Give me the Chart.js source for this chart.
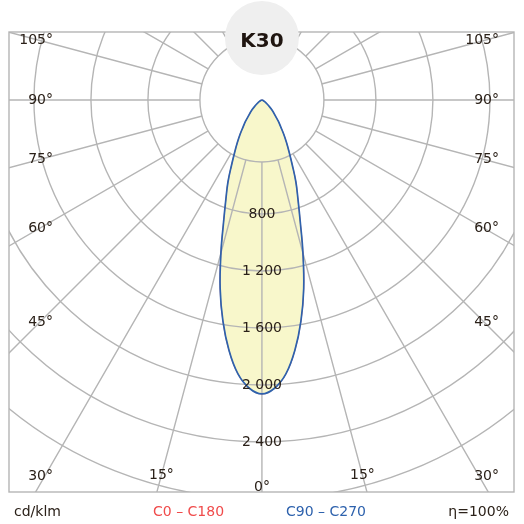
<!DOCTYPE html>
<html>
<head>
<meta charset="utf-8">
<script src="https://cdn.jsdelivr.net/npm/chart.js@4.4.1/dist/chart.umd.min.js"></script>
<style>
  html, body { margin: 0; padding: 0; background: #fff; }
  #wrap { position: relative; width: 524px; height: 524px; font-family: "DejaVu Sans", sans-serif; color: #2b2119; }
  #polar { position: absolute; left: 0; top: 0; }
  #title { position: absolute; left: 212px; top: 26px; width: 100px; text-align: center; font-weight: bold; font-size: 20px; line-height: 28px; color: #1f1510; }
  .note { position: absolute; top: 502px; font-size: 14px; line-height: 18px; white-space: nowrap; }
</style>
</head>
<body>
<div id="wrap">
  <canvas id="polar" width="524" height="524"></canvas>
  <div id="title">K30</div>
  <div class="note" style="left:14px">cd/klm</div>
  <div class="note" style="left:153px;color:#f04b4b">C0 – C180</div>
  <div class="note" style="left:286px;color:#2e62ad">C90 – C270</div>
  <div class="note" style="right:15px">η=100%</div>
</div>
<script>
// gamma angles (deg from nadir) and luminous intensity, cd/klm
var gammaAngles = [0, 2.5, 5, 7.5, 10, 12.5, 15, 17.5, 20, 22.5, 25, 27.5, 30, 32.5, 35, 37.5, 40, 45, 50, 55, 60, 70, 80, 90];
var c0c180 = [2063, 2025, 1930, 1772, 1576, 1355, 1112, 894, 739, 623, 505, 415, 345, 285, 230, 190, 150, 100, 60, 35, 18, 6, 2, 0];
var c90c270 = [2063, 2025, 1930, 1772, 1576, 1355, 1112, 894, 739, 623, 505, 415, 345, 285, 230, 190, 150, 100, 60, 35, 18, 6, 2, 0];

var ringValues = [400, 800, 1200, 1600, 2000, 2400, 2800];
var ringLabels = [800, 1200, 1600, 2000, 2400];
var spokeAngles = [0, 15, 30, 45, 60, 75, 90, 105, 120, 135, 150, 165, 180];
var degreeLabels = [0, 15, 30, 45, 60, 75, 90, 105];

var gridColor = '#b5b5b5';
var textColor = '#2b2119';
var maskRadius = 62;

// mirror one half-plane curve into a closed loop of x/y points
function toPoints(values) {
    var pts = [];
    var i, a;
    for (i = gammaAngles.length - 1; i >= 0; i--) {
        a = gammaAngles[i] * Math.PI / 180;
        pts.push({ x: -values[i] * Math.sin(a), y: -values[i] * Math.cos(a) });
    }
    for (i = 1; i < gammaAngles.length; i++) {
        a = gammaAngles[i] * Math.PI / 180;
        pts.push({ x: values[i] * Math.sin(a), y: -values[i] * Math.cos(a) });
    }
    return pts;
}

function fmt(v) {
    return String(v).replace(/\B(?=(\d{3})+(?!\d))/g, ' ');
}

var polarGrid = {
    id: 'polarGrid',
    beforeDatasetsDraw: function(chart) {
        var ctx = chart.ctx, area = chart.chartArea;
        var cx = chart.scales.x.getPixelForValue(0);
        var cy = chart.scales.y.getPixelForValue(0);
        var k = chart.scales.x.getPixelForValue(1000) - cx;

        ctx.save();
        ctx.beginPath();
        ctx.rect(area.left, area.top, area.right - area.left, area.bottom - area.top);
        ctx.arc(cx, cy, maskRadius, 0, Math.PI * 2);
        ctx.clip('evenodd');
        ctx.strokeStyle = gridColor;
        ctx.lineWidth = 1.4;
        ringValues.forEach(function(r) {
            ctx.beginPath();
            ctx.arc(cx, cy, r * k / 1000, 0, Math.PI * 2);
            ctx.stroke();
        });
        spokeAngles.forEach(function(deg) {
            var a = deg * Math.PI / 180;
            ctx.beginPath();
            ctx.moveTo(cx, cy);
            ctx.lineTo(cx + 1000 * Math.sin(a), cy + 1000 * Math.cos(a));
            ctx.moveTo(cx, cy);
            ctx.lineTo(cx - 1000 * Math.sin(a), cy + 1000 * Math.cos(a));
            ctx.stroke();
        });
        ctx.restore();

        ctx.save();
        ctx.strokeStyle = gridColor;
        ctx.lineWidth = 1.4;
        ctx.beginPath();
        ctx.arc(cx, cy, maskRadius, 0, Math.PI * 2);
        ctx.stroke();
        ctx.strokeRect(area.left, area.top, area.right - area.left, area.bottom - area.top);
        ctx.restore();
    },
    afterDatasetsDraw: function(chart) {
        var ctx = chart.ctx, area = chart.chartArea;
        var cx = chart.scales.x.getPixelForValue(0);
        var cy = chart.scales.y.getPixelForValue(0);

        ctx.save();
        ctx.fillStyle = textColor;
        ctx.font = '14px "DejaVu Sans", sans-serif';
        ctx.textBaseline = 'middle';

        ctx.textAlign = 'center';
        ringLabels.forEach(function(v) {
            ctx.fillText(fmt(v), cx, chart.scales.y.getPixelForValue(-v));
        });

        degreeLabels.forEach(function(deg) {
            var a = deg * Math.PI / 180;
            var txt = deg + '°';
            if (deg === 0) {
                ctx.textAlign = 'center';
                ctx.fillText(txt, cx, area.bottom - 5);
            } else if (deg === 15) {
                var y = area.bottom - 17;
                var dx = (y - cy) * Math.tan(a);
                ctx.textAlign = 'center';
                ctx.fillText(txt, cx - dx, y);
                ctx.fillText(txt, cx + dx, y);
            } else {
                var ly = Math.min(cy + 222 * Math.cos(a) / Math.sin(a), area.bottom - 16);
                ctx.textAlign = 'right';
                ctx.fillText(txt, area.left + 44, ly);
                ctx.fillText(txt, area.right - 15, ly);
            }
        });
        ctx.restore();
    },
    afterDraw: function(chart) {
        var ctx = chart.ctx;
        var cx = chart.scales.x.getPixelForValue(0);
        ctx.save();
        ctx.fillStyle = '#efefef';
        ctx.beginPath();
        ctx.arc(cx, 38, 37, 0, Math.PI * 2);
        ctx.fill();
        ctx.restore();
    }
};

var ctx = document.getElementById('polar').getContext('2d');

var myChart = new Chart(ctx, {
    type: 'line',
    data: {
        datasets: [
            {
                label: 'C90 – C270',
                data: toPoints(c90c270),
                borderColor: '#2e62ad',
                borderWidth: 1.7,
                pointRadius: 0,
                tension: 0.4,
                fill: false,
                order: 0
            },
            {
                label: 'C0 – C180',
                data: toPoints(c0c180),
                borderColor: '#f04b4b',
                backgroundColor: '#f8f7cb',
                borderWidth: 0.8,
                pointRadius: 0,
                tension: 0.4,
                fill: 'shape',
                order: 1
            }
        ]
    },
    options: {
        responsive: false,
        animation: false,
        events: [],
        layout: { padding: { left: 9, right: 10, top: 32, bottom: 32 } },
        scales: {
            x: { type: 'linear', min: -1775, max: 1769, display: false },
            y: { type: 'linear', min: -2751, max: 477, display: false }
        },
        plugins: {
            legend: { display: false },
            tooltip: { enabled: false },
            filler: { drawTime: 'beforeDraw' }
        }
    },
    plugins: [polarGrid]
});
</script>
</body>
</html>
